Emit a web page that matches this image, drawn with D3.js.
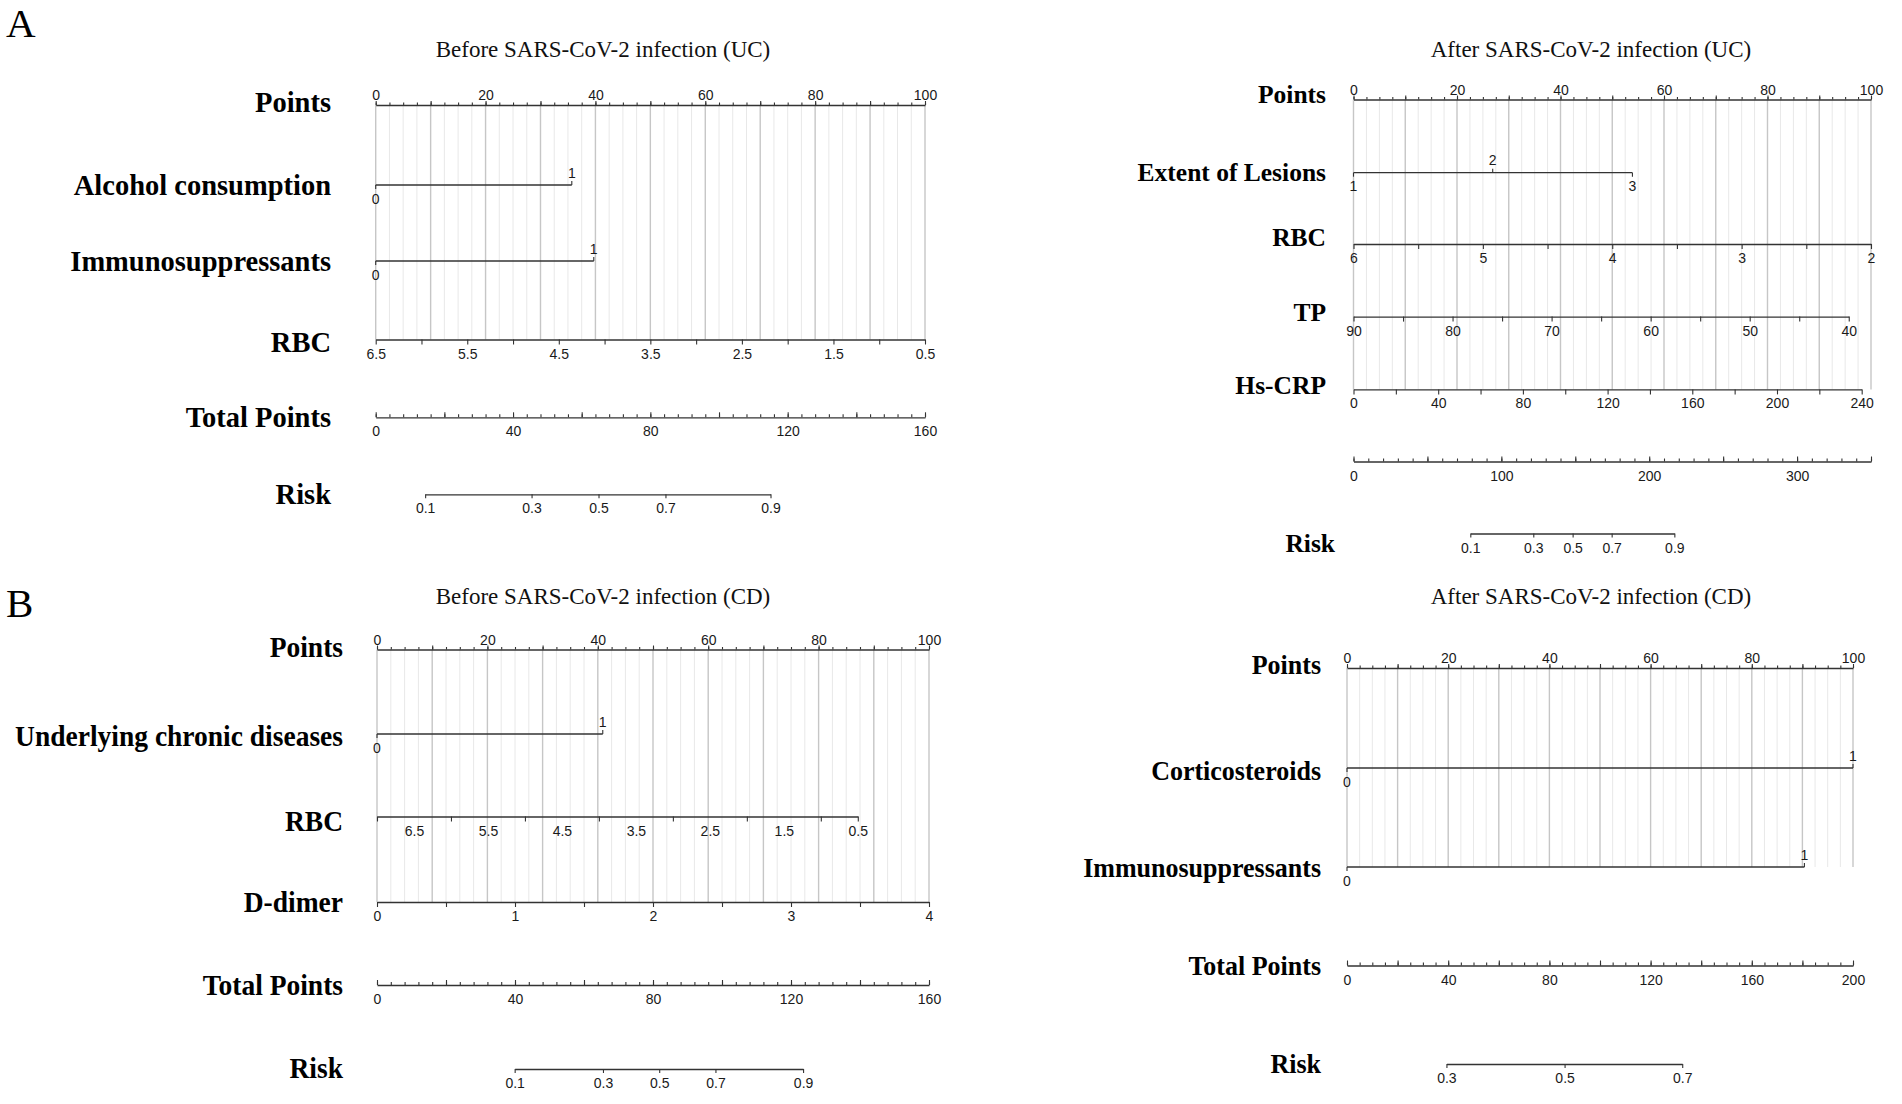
<!DOCTYPE html>
<html><head><meta charset="utf-8">
<script src="https://cdn.jsdelivr.net/npm/d3@7"></script>
<style>body{margin:0;background:#fff}svg{display:block}</style>
</head><body>
<svg id="chart" width="1902" height="1104"></svg>
<script>
// ---------------- data ----------------
const panelLetters = ["A", "B"];
const panelTitles = [
  "Before SARS-CoV-2 infection (UC)",
  "After SARS-CoV-2 infection (UC)",
  "Before SARS-CoV-2 infection (CD)",
  "After SARS-CoV-2 infection (CD)"
];
const pointsTickLabels = [0, 20, 40, 60, 80, 100];

// A: before infection (UC)
const ucBeforeAlcohol = { name: "Alcohol consumption", levels: ["0", "1"], points: [0, 35.7] };
const ucBeforeImmuno = { name: "Immunosuppressants", levels: ["0", "1"], points: [0, 39.7] };
const ucBeforeRBC = { name: "RBC", range: [6.5, 0.5], points: [0, 100],
  ticks: [6.5, 6, 5.5, 5, 4.5, 4, 3.5, 3, 2.5, 2, 1.5, 1, 0.5],
  labels: [6.5, 5.5, 4.5, 3.5, 2.5, 1.5, 0.5] };
const ucBeforeTotal = { max: 160, labels: [0, 40, 80, 120, 160], minor: 4, major: 20 };
const ucBeforeRisk = { labels: [0.1, 0.3, 0.5, 0.7, 0.9], totalPoints: [14.4, 45.4, 64.9, 84.4, 115.0] };

// A: after infection (UC)
const ucAfterLesions = { name: "Extent of Lesions", levels: ["1", "2", "3"], points: [0, 26.9, 53.9] };
const ucAfterRBC = { name: "RBC", range: [6, 2], points: [0, 100],
  ticks: [6, 5.5, 5, 4.5, 4, 3.5, 3, 2.5, 2], labels: [6, 5, 4, 3, 2] };
const ucAfterTP = { name: "TP", range: [90, 40], points: [0, 95.7],
  ticks: [90, 85, 80, 75, 70, 65, 60, 55, 50, 45, 40], labels: [90, 80, 70, 60, 50, 40] };
const ucAfterCRP = { name: "Hs-CRP", range: [0, 240], points: [0, 98.2],
  ticks: [0, 20, 40, 60, 80, 100, 120, 140, 160, 180, 200, 220, 240],
  labels: [0, 40, 80, 120, 160, 200, 240] };
const ucAfterTotal = { max: 350, labels: [0, 100, 200, 300], minor: 10, major: 50 };
const ucAfterRisk = { labels: [0.1, 0.3, 0.5, 0.7, 0.9], totalPoints: [79.0, 121.6, 148.2, 174.6, 217.0] };

// B: before infection (CD)
const cdBeforeChronic = { name: "Underlying chronic diseases", levels: ["0", "1"], points: [0, 40.9] };
const cdBeforeRBC = { name: "RBC", range: [7, 0.5], points: [0, 87.1],
  ticks: [7, 6, 5, 4, 3, 2, 1, 0.5], labels: [6.5, 5.5, 4.5, 3.5, 2.5, 1.5, 0.5] };
const cdBeforeDdimer = { name: "D-dimer", range: [0, 4], points: [0, 100],
  ticks: [0, 0.5, 1, 1.5, 2, 2.5, 3, 3.5, 4], labels: [0, 1, 2, 3, 4] };
const cdBeforeTotal = { max: 160, labels: [0, 40, 80, 120, 160], minor: 4, major: 20 };
const cdBeforeRisk = { labels: [0.1, 0.3, 0.5, 0.7, 0.9], totalPoints: [39.9, 65.5, 81.8, 98.1, 123.5] };

// B: after infection (CD)
const cdAfterSteroids = { name: "Corticosteroids", levels: ["0", "1"], points: [0, 100] };
const cdAfterImmuno = { name: "Immunosuppressants", levels: ["0", "1"], points: [0, 90.4] };
const cdAfterTotal = { max: 200, labels: [0, 40, 80, 120, 160, 200], minor: 5, major: 20 };
const cdAfterRisk = { labels: [0.3, 0.5, 0.7], totalPoints: [39.3, 86.0, 132.5] };

// ---------------- layout ----------------
const panels = [
  { title: panelTitles[0], titleX: 603, titleY: 56.5, x0: 375.7, x1: 925, labelRight: 331, labelSize: 28.5, stretch: 1.07, gridEnd: 3,
    rows: [
      { kind: "points", y: 105, dy: -3 },
      { kind: "cat", y: 185, data: ucBeforeAlcohol },
      { kind: "cat", y: 261, data: ucBeforeImmuno },
      { kind: "num", y: 339.5, data: ucBeforeRBC, dy: 2 },
      { kind: "total", y: 417.3, data: ucBeforeTotal, label: "Total Points" },
      { kind: "risk", y: 494.3, data: ucBeforeRisk, label: "Risk" }
    ] },
  { title: panelTitles[1], titleX: 1591, titleY: 56.5, x0: 1353.5, x1: 1871, labelRight: 1326, labelSize: 25.5, stretch: 1, gridEnd: 4,
    rows: [
      { kind: "points", y: 99.5, dy: -5 },
      { kind: "cat", y: 172.7, data: ucAfterLesions },
      { kind: "num", y: 244, data: ucAfterRBC, dy: -6 },
      { kind: "num", y: 316.6, data: ucAfterTP, dy: -3.6 },
      { kind: "num", y: 389.4, data: ucAfterCRP, dy: -3.7 },
      { kind: "total", y: 461.5, data: ucAfterTotal, label: "" },
      { kind: "risk", y: 533.5, data: ucAfterRisk, label: "Risk", dy: 10, dx: 9 }
    ] },
  { title: panelTitles[2], titleX: 603, titleY: 604, x0: 377, x1: 929, labelRight: 343, labelSize: 27.5, stretch: 1.05, gridEnd: 3,
    rows: [
      { kind: "points", y: 649.5, dy: -2.5 },
      { kind: "cat", y: 734, data: cdBeforeChronic, dy: 2 },
      { kind: "num", y: 816.5, data: cdBeforeRBC, dy: 4.5 },
      { kind: "num", y: 902, data: cdBeforeDdimer },
      { kind: "total", y: 985, data: cdBeforeTotal, label: "Total Points" },
      { kind: "risk", y: 1069, data: cdBeforeRisk, label: "Risk", dy: -1 }
    ] },
  { title: panelTitles[3], titleX: 1591, titleY: 604, x0: 1347, x1: 1853, labelRight: 1321, labelSize: 26, stretch: 1.03, gridEnd: 2,
    rows: [
      { kind: "points", y: 668, dy: -3 },
      { kind: "cat", y: 768, data: cdAfterSteroids, dy: 3 },
      { kind: "cat", y: 867, data: cdAfterImmuno, dy: 1.5 },
      { kind: "total", y: 965.5, data: cdAfterTotal, label: "Total Points", dy: 1 },
      { kind: "risk", y: 1064, data: cdAfterRisk, label: "Risk" }
    ] }
];

const LINE = "#333";
const TICK_FS = 14;
const SANS = "'Liberation Sans', Arial, sans-serif";
const SERIF = "'Liberation Serif', 'Times New Roman', serif";

const svg = d3.select("#chart");

function styleAxis(g, keepDomain) {
  g.attr("color", LINE).attr("font-family", SANS).attr("font-size", TICK_FS);
  g.selectAll("text").attr("fill", "#1a1a1a");
  g.selectAll(".tick line").attr("stroke-width", 1.1);
  if (keepDomain) g.select(".domain").attr("stroke-width", 1.3);
  else g.select(".domain").remove();
}

function drawPanel(p) {
  const g = svg.append("g");
  const x = d3.scaleLinear().domain([0, 100]).range([p.x0, p.x1]);
  const pad = 19 - 0.71 * TICK_FS;

  // grid lines between Points axis and last predictor axis
  const yTop = p.rows[0].y, yBot = p.rows[p.gridEnd].y;
  const gridVals = d3.range(0, 100.001, 2.5);
  g.append("g").selectAll("line").data(gridVals).join("line")
    .attr("x1", d => x(d)).attr("x2", d => x(d))
    .attr("y1", yTop).attr("y2", yBot)
    .attr("stroke", d => (Math.abs(d % 10) < 1e-6 ? "#c6c6c6" : "#e8e8e8"))
    .attr("stroke-width", d => (Math.abs(d % 10) < 1e-6 ? 1.4 : 1));

  // title
  g.append("text").attr("x", p.titleX).attr("y", p.titleY)
    .attr("text-anchor", "middle").attr("font-family", SERIF).attr("font-size", 23)
    .attr("fill", "#111").text(p.title);

  p.rows.forEach(row => {
    let label = "";
    if (row.kind === "points") {
      label = "Points";
      const a1 = g.append("g").attr("transform", `translate(0,${row.y})`)
        .call(d3.axisTop(x).tickValues(gridVals).tickSize(2.5).tickSizeOuter(0).tickFormat(""));
      styleAxis(a1, true);
      const a2 = g.append("g").attr("transform", `translate(0,${row.y})`)
        .call(d3.axisTop(x).tickValues(d3.range(0, 100.001, 10)).tickSize(4).tickFormat(""));
      styleAxis(a2, false);
      const a3 = g.append("g").attr("transform", `translate(0,${row.y})`)
        .call(d3.axisTop(x).tickValues(pointsTickLabels).tickSize(0).tickPadding(5).tickFormat(d => String(d)));
      styleAxis(a3, false);
    } else if (row.kind === "cat") {
      const d = row.data;
      label = d.name;
      const cg = g.append("g");
      cg.append("line")
        .attr("x1", x(d3.min(d.points))).attr("x2", x(d3.max(d.points)))
        .attr("y1", row.y).attr("y2", row.y)
        .attr("stroke", LINE).attr("stroke-width", 1.3);
      const lv = d.levels.map((t, i) => ({ t, pt: d.points[i], up: i % 2 === 1 }));
      cg.selectAll("line.tk").data(lv).join("line").attr("class", "tk")
        .attr("x1", v => x(v.pt)).attr("x2", v => x(v.pt))
        .attr("y1", row.y).attr("y2", v => row.y + (v.up ? -4 : 4))
        .attr("stroke", LINE).attr("stroke-width", 1.1);
      cg.selectAll("text").data(lv).join("text")
        .attr("x", v => x(v.pt)).attr("y", v => row.y + (v.up ? -7.5 : 18.5))
        .attr("text-anchor", "middle").attr("font-family", SANS).attr("font-size", TICK_FS)
        .attr("fill", "#1a1a1a").text(v => v.t);
    } else if (row.kind === "num") {
      const d = row.data;
      label = d.name;
      const s = d3.scaleLinear().domain(d.range).range([x(d.points[0]), x(d.points[1])]);
      const a1 = g.append("g").attr("transform", `translate(0,${row.y})`)
        .call(d3.axisBottom(s).tickValues(d.ticks).tickSize(5).tickSizeOuter(0).tickFormat(""));
      styleAxis(a1, true);
      const a2 = g.append("g").attr("transform", `translate(0,${row.y})`)
        .call(d3.axisBottom(s).tickValues(d.labels).tickSize(0).tickPadding(pad).tickFormat(v => String(v)));
      styleAxis(a2, false);
    } else if (row.kind === "total") {
      const d = row.data;
      label = row.label;
      const xt = d3.scaleLinear().domain([0, d.max]).range([p.x0, p.x1]);
      const a1 = g.append("g").attr("transform", `translate(0,${row.y})`)
        .call(d3.axisBottom(xt).tickValues(d3.range(0, d.max + 0.001, d.minor)).tickSize(-3).tickSizeOuter(0).tickFormat(""));
      styleAxis(a1, true);
      const a2 = g.append("g").attr("transform", `translate(0,${row.y})`)
        .call(d3.axisBottom(xt).tickValues(d3.range(0, d.max + 0.001, d.major)).tickSize(-5).tickFormat(""));
      styleAxis(a2, false);
      const a3 = g.append("g").attr("transform", `translate(0,${row.y})`)
        .call(d3.axisBottom(xt).tickValues(d.labels).tickSize(0).tickPadding(pad).tickFormat(v => String(v)));
      styleAxis(a3, false);
      p._xt = xt;
    } else if (row.kind === "risk") {
      const d = row.data;
      label = row.label;
      const xt = p._xt;
      const rs = d3.scaleLinear().domain(d.labels).range(d.totalPoints.map(v => xt(v)));
      const a1 = g.append("g").attr("transform", `translate(0,${row.y})`)
        .call(d3.axisBottom(rs).tickValues(d.labels).tickSize(4).tickSizeOuter(0).tickPadding(pad - 4).tickFormat(v => String(v)));
      styleAxis(a1, true);
    }
    if (label) {
      const fs = p.labelSize;
      const ly = row.y + (row.dy || 0);
      g.append("text")
        .attr("transform", `translate(${p.labelRight + (row.dx || 0)},${ly}) scale(1,${p.stretch})`)
        .attr("y", fs * 0.33)
        .attr("text-anchor", "end").attr("font-family", SERIF).attr("font-weight", "bold")
        .attr("font-size", fs).attr("fill", "#000").text(label);
    }
  });
}

panels.forEach(drawPanel);

// panel letters
svg.selectAll("text.letter").data(panelLetters).join("text").attr("class", "letter")
  .attr("x", 6).attr("y", (d, i) => (i === 0 ? 37 : 617))
  .attr("font-family", SERIF).attr("font-size", 41).attr("fill", "#000").text(d => d);
</script>
</body></html>
